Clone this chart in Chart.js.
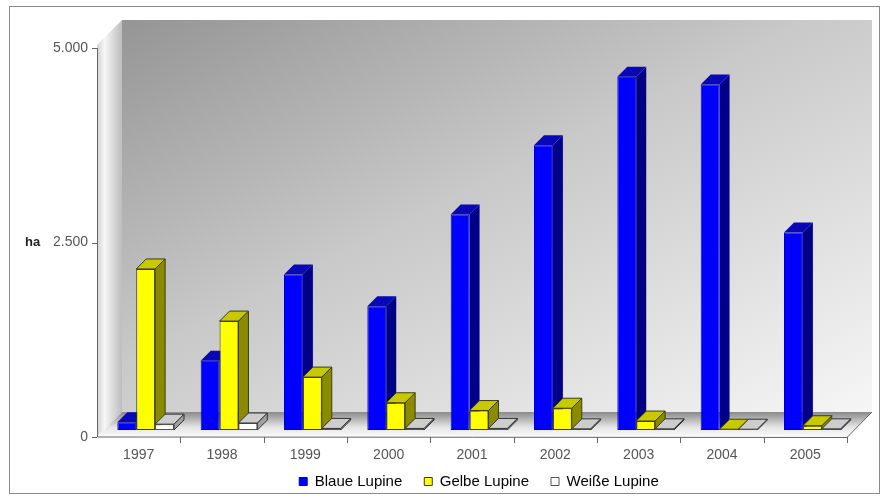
<!DOCTYPE html>
<html>
<head>
<meta charset="utf-8">
<script src="https://cdn.jsdelivr.net/npm/chart.js@4.4.1/dist/chart.umd.min.js"></script>
<style>
  html, body { margin: 0; padding: 0; background: #fff; }
  canvas { display: block; }
</style>
</head>
<body>
<canvas id="lupinen" width="885" height="499"></canvas>
<script>
// Anbaufläche Lupinen in ha
const jahre = ["1997", "1998", "1999", "2000", "2001", "2002", "2003", "2004", "2005"];
const blaueLupine = [100, 890, 2000, 1590, 2770, 3660, 4540, 4440, 2540];
const gelbeLupine = [2070, 1400, 680, 350, 250, 280, 115, 10, 55];
const weisseLupine = [75, 90, 20, 20, 20, 15, 15, 10, 15];
const achsenTicks = [0, 2500, 5000];

const TIEFE_RAUM = 25;   // Tiefe von Boden und Wänden
const TIEFE_BALKEN = 10; // Tiefe der Säulen
const VERSATZ = 7;       // Säulen stehen etwas hinter der Vorderkante

// Farben der Seiten- und Deckflächen, in Reihenfolge der Datensätze
const seiten = ["#000088", "#8b8b00", "#a0a0a0"];
const deckel = ["#0808b8", "#c9c900", "#cdcdcd"];
const kanten = [null, "#3c3c14", "#333333"];

Chart.defaults.font.family = "'Liberation Sans', Arial, sans-serif";

function formatDE(v) {
    return String(v).replace(/\B(?=(\d{3})+(?!\d))/g, ".");
}

function flaeche(ctx, punkte, fill, kante) {
    ctx.beginPath();
    ctx.moveTo(punkte[0][0], punkte[0][1]);
    for (let i = 1; i < punkte.length; i++) ctx.lineTo(punkte[i][0], punkte[i][1]);
    ctx.closePath();
    ctx.fillStyle = fill;
    ctx.fill();
    if (kante) {
        ctx.strokeStyle = kante;
        ctx.lineWidth = 1;
        ctx.stroke();
    }
}

// Raum (Rückwand, Seitenwand, Boden) + Achsen im Stil eines 3D-Diagramms
const raum3d = {
    id: "raum3d",
    beforeDraw(chart) {
        const { ctx, chartArea: a, scales: { x, y } } = chart;
        const D = TIEFE_RAUM;
        ctx.save();
        ctx.fillStyle = "#fff";
        ctx.fillRect(0, 0, chart.width, chart.height);
        ctx.strokeStyle = "#8a8a8a";
        ctx.lineWidth = 1;
        ctx.strokeRect(9.5, 6.5, 870, 487);

        const fl = a.left - VERSATZ;
        const fr = a.right - VERSATZ;
        const f0 = y.getPixelForValue(0) + VERSATZ;
        const fTop = y.getPixelForValue(y.max) + VERSATZ - 3;

        // Rückwand: oben links dunkel, unten rechts hell
        const bx0 = fl + D, by0 = fTop - D, bx1 = fr + D, by1 = f0 - D;
        const len = ((bx1 - bx0) + 2 * (by1 - by0)) / 5;
        let g = ctx.createLinearGradient(bx0, by0, bx0 + len, by0 + 2 * len);
        g.addColorStop(0, "#959595");
        g.addColorStop(0.45, "#c9c9c9");
        g.addColorStop(1, "#f6f6f6");
        ctx.fillStyle = g;
        ctx.fillRect(bx0, by0, bx1 - bx0, by1 - by0);

        // linke Wand
        g = ctx.createLinearGradient(fl, 0, fl + D, 0);
        g.addColorStop(0, "#d2d2d2");
        g.addColorStop(0.3, "#f6f6f6");
        g.addColorStop(1, "#bdbdbd");
        flaeche(ctx, [[fl, fTop], [fl + D, fTop - D], [fl + D, f0 - D], [fl, f0]], g);

        // Boden
        g = ctx.createLinearGradient(0, f0 - D, 0, f0);
        g.addColorStop(0, "#8a8a8a");
        g.addColorStop(0.6, "#e4e4e4");
        g.addColorStop(1, "#fbfbfb");
        flaeche(ctx, [[fl, f0], [fl + D, f0 - D], [fr + D, f0 - D], [fr, f0]], g);

        // Achsenlinien
        ctx.strokeStyle = "#666";
        ctx.lineWidth = 1;
        ctx.beginPath();
        ctx.moveTo(fl + 0.5, fTop + 3);
        ctx.lineTo(fl + 0.5, f0);
        ctx.lineTo(fr, f0 + 0.5);
        ctx.lineTo(fr + D, f0 - D);
        achsenTicks.forEach(v => {
            const py = Math.round(y.getPixelForValue(v) + VERSATZ) + 0.5;
            ctx.moveTo(fl - 5, py);
            ctx.lineTo(fl, py);
        });
        const catW = x.getPixelForValue(1) - x.getPixelForValue(0);
        for (let k = 0; k < jahre.length; k++) {
            const px = Math.round(x.getPixelForValue(k) + catW / 2 - VERSATZ) + 0.5;
            ctx.moveTo(px, f0);
            ctx.lineTo(px, f0 + 6);
        }
        ctx.stroke();

        // Einheit
        ctx.fillStyle = "#222";
        ctx.font = "bold 13px 'Liberation Sans', Arial, sans-serif";
        ctx.textBaseline = "middle";
        ctx.fillText("ha", 25, y.getPixelForValue(2500) + VERSATZ);
        ctx.restore();
    },
    // Säulen selbst zeichnen, damit die Reihenfolge pro Jahr stimmt
    beforeDatasetDraw() {
        return false;
    },
    afterDatasetsDraw(chart) {
        const ctx = chart.ctx;
        const d = TIEFE_BALKEN;
        const metas = chart.data.datasets.map((ds, i) => chart.getDatasetMeta(i));
        ctx.save();
        for (let k = 0; k < jahre.length; k++) {
            metas.forEach((meta, i) => {
                const bar = meta.data[k];
                if (!bar) return;
                bar.draw(ctx);
                const { x, y, base, width } = bar.getProps(["x", "y", "base", "width"], true);
                const l = x - width / 2, r = x + width / 2;
                flaeche(ctx, [[r, y], [r + d, y - d], [r + d, base - d], [r, base]], seiten[i], kanten[i]);
                flaeche(ctx, [[l, y], [l + d, y - d], [r + d, y - d], [r, y]], deckel[i], kanten[i]);
            });
        }
        ctx.restore();
    }
};

new Chart(document.getElementById("lupinen"), {
    type: "bar",
    plugins: [raum3d],
    data: {
        labels: jahre,
        datasets: [
            {
                label: "Blaue Lupine",
                data: blaueLupine,
                backgroundColor: "#0000ff",
                borderColor: "#0000c0",
                borderWidth: 1,
                borderSkipped: false
            },
            {
                label: "Gelbe Lupine",
                data: gelbeLupine,
                backgroundColor: "#ffff00",
                borderColor: "#3c3c14",
                borderWidth: 1,
                borderSkipped: false
            },
            {
                label: "Weiße Lupine",
                data: weisseLupine,
                backgroundColor: "#ffffff",
                borderColor: "#555555",
                borderWidth: 1,
                borderSkipped: false
            }
        ]
    },
    options: {
        responsive: false,
        animation: false,
        layout: { padding: { left: 0, right: 31, top: 41, bottom: 0 } },
        datasets: {
            bar: { categoryPercentage: 0.68, barPercentage: 1.0 }
        },
        plugins: {
            tooltip: { enabled: false },
            legend: {
                position: "bottom",
                fullSize: false,
                labels: {
                    boxWidth: 8,
                    boxHeight: 8,
                    padding: 22,
                    color: "#000",
                    font: { size: 15 }
                }
            }
        },
        scales: {
            x: {
                grid: { display: false, drawTicks: false },
                border: { display: false },
                ticks: {
                    // gespiegelt, damit die Beschriftung nicht abgeschnitten wird
                    mirror: true,
                    padding: -34,
                    labelOffset: -VERSATZ,
                    maxRotation: 0,
                    color: "#555",
                    font: { size: 14 }
                },
                afterFit: s => { s.height = 22; }
            },
            y: {
                min: 0,
                max: 5000,
                grid: { display: false, drawTicks: false },
                border: { display: false },
                ticks: {
                    padding: 16,
                    labelOffset: VERSATZ,
                    color: "#555",
                    font: { size: 14 },
                    callback: v => formatDE(v)
                },
                afterBuildTicks: s => { s.ticks = achsenTicks.map(v => ({ value: v })); },
                afterFit: s => { s.width = 104; }
            }
        }
    }
});
</script>
</body>
</html>
